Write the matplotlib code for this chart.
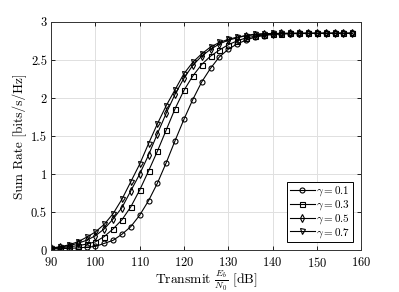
import numpy as np
import matplotlib
matplotlib.use("Agg")
import matplotlib.pyplot as plt

plt.rcParams['font.family'] = 'serif'
plt.rcParams['font.serif'] = ['cmr10']
plt.rcParams['mathtext.fontset'] = 'cm'
plt.rcParams['axes.formatter.use_mathtext'] = True

snr_db = np.arange(90, 160, 2)

rate_g01 = [0.015, 0.02, 0.025, 0.03, 0.04, 0.05, 0.09, 0.13, 0.21, 0.31, 0.46, 0.65, 0.88, 1.15,
            1.44, 1.72, 1.98, 2.21, 2.39, 2.54, 2.64, 2.71, 2.76, 2.80, 2.82, 2.835, 2.842, 2.845,
            2.847, 2.848, 2.849, 2.85, 2.85, 2.85, 2.85]
rate_g03 = [0.02, 0.03, 0.045, 0.06, 0.08, 0.11, 0.18, 0.28, 0.40, 0.57, 0.79, 1.04, 1.30, 1.58,
            1.86, 2.10, 2.29, 2.44, 2.55, 2.63, 2.70, 2.75, 2.79, 2.81, 2.83, 2.84, 2.845, 2.848,
            2.849, 2.85, 2.85, 2.85, 2.85, 2.85, 2.85]
rate_g05 = [0.025, 0.04, 0.06, 0.09, 0.13, 0.19, 0.28, 0.41, 0.56, 0.78, 1.00, 1.25, 1.53, 1.80,
            2.05, 2.26, 2.43, 2.55, 2.64, 2.71, 2.76, 2.79, 2.82, 2.83, 2.84, 2.845, 2.848, 2.85,
            2.85, 2.85, 2.85, 2.85, 2.85, 2.85, 2.85]
rate_g07 = [0.03, 0.045, 0.07, 0.11, 0.17, 0.24, 0.34, 0.48, 0.67, 0.90, 1.13, 1.40, 1.66, 1.90,
            2.11, 2.32, 2.47, 2.58, 2.67, 2.73, 2.77, 2.80, 2.82, 2.84, 2.845, 2.848, 2.85, 2.85,
            2.85, 2.85, 2.85, 2.85, 2.85, 2.85, 2.85]

series = [(rate_g01, 'o', r'$\gamma = 0.1$'),
          (rate_g03, 's', r'$\gamma = 0.3$'),
          (rate_g05, 'd', r'$\gamma = 0.5$'),
          (rate_g07, 'v', r'$\gamma = 0.7$')]

fig = plt.figure(figsize=(3.99, 2.92), dpi=100)
ax = fig.add_axes([0.128, 0.143, 0.777, 0.782])

for vals, mk, lab in series:
    ax.plot(snr_db, vals, color='black', lw=0.8, marker=mk, ms=3.6,
            mfc='none', mec='black', mew=0.8, label=lab)

ax.set_xlim(90, 160)
ax.set_ylim(0, 3)
ax.set_xticks(np.arange(90, 161, 10))
ax.set_yticks([0, 0.5, 1, 1.5, 2, 2.5, 3])
ax.set_yticklabels(['0', '0.5', '1', '1.5', '2', '2.5', '3'])
ax.grid(True, color='#e0e0e0', lw=0.7)
ax.set_axisbelow(True)
ax.tick_params(direction='in', top=True, right=True, labelsize=9, length=3, width=0.6)
ax.tick_params(axis='x', pad=4)
ax.tick_params(axis='y', pad=3)
for s in ax.spines.values():
    s.set_linewidth(0.7)
    s.set_color('#333333')

ax.set_xlabel(r'Transmit $\frac{E_b}{N_0}$ [dB]', fontsize=9.8, labelpad=-0.5)
ax.set_ylabel('Sum Rate [bits/s/Hz]', fontsize=9.6, labelpad=3)

leg = ax.legend(loc='lower right', fontsize=8, fancybox=False, framealpha=1,
                edgecolor='black', borderpad=0.25, labelspacing=0.0,
                handlelength=2.2, handletextpad=0.15, borderaxespad=0.7)
leg.get_frame().set_linewidth(0.7)

fig.savefig('out.png', dpi=100)
